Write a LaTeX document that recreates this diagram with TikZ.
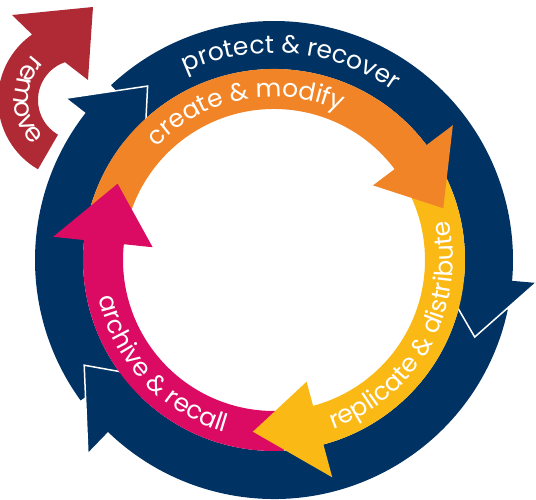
\documentclass[tikz,border=0pt]{standalone}
\usepackage{fontspec}
\newfontfamily\cyclefont{Poppins}
\usetikzlibrary{decorations.text}
\definecolor{navyblue}{RGB}{0,51,99}
\definecolor{createorange}{RGB}{241,132,38}
\definecolor{replyellow}{RGB}{250,185,21}
\definecolor{archivepink}{RGB}{219,11,99}
\definecolor{removered}{RGB}{175,42,53}
\newcommand{\labelfont}{\cyclefont\fontsize{25}{25}\selectfont\color{white}}
\newcommand{\removefont}{\cyclefont\fontsize{26}{26}\selectfont\color{white}}
% band of a ring: colour, from angle, to angle, inner r, outer r
\newcommand{\ringbody}[5]{\fill[#1] (#2:#5) arc[start angle=#2, end angle=#3, radius=#5] -- (#3:#4) arc[start angle=#3, end angle=#2, radius=#4] -- cycle;}
% head: colour, base angle, tip angle, inner r, outer r, tip r
\newcommand{\ringhead}[6]{\fill[#1] (#2:#4) -- (#3:#6) -- (#2:#5) -- cycle;}
\newcommand{\headedge}[5]{\draw[white, line width=1.5pt] (#1:#3) -- (#2:#5) -- (#1:#4);}

\begin{document}
\begin{tikzpicture}[x=1pt, y=1pt,
	ringlabel/.style={decorate, decoration={text along path, text align=center, text={|\labelfont|#1}}},
	removelabel/.style={decorate, decoration={text along path, text align=center, text={|\removefont|#1}}}]
	\useasboundingbox (-274,-240) rectangle (262,260);
	% outer ring
	\ringbody{navyblue}{216}{140}{191}{239}
	\ringbody{navyblue}{133}{-7}{191}{239}
	\ringbody{navyblue}{-12}{-136}{191}{239}
	\ringhead{navyblue}{142}{126}{165}{263}{215}
	\headedge{142}{126}{165}{263}{215}
	\ringhead{navyblue}{-5}{-21}{165}{263}{215}
	\headedge{-5}{-21}{165}{263}{215}
	\ringhead{navyblue}{226}{209}{165}{268}{217}
	\headedge{226}{209}{165}{268}{217}
	% inner ring
	\ringbody{createorange}{166}{35}{151}{191}
	\ringbody{replyellow}{27}{-77}{151}{191}
	\ringbody{archivepink}{-87}{-188}{151}{191}
	\ringhead{createorange}{37}{17}{124}{224}{177}
	\ringhead{replyellow}{-75}{-97}{126}{225}{173}
	\ringhead{archivepink}{174}{154}{122}{222}{174}
	% remove
	\begin{scope}[shift={(-196,160)}]
		\fill[removered] (240:80) arc[start angle=240, end angle=125, radius=80] -- (-66,85) -- (15,93) -- (10,20) -- (109:40) arc[start angle=109, end angle=240, radius=40] -- cycle;
		\path[removelabel={remove}] (105:64) arc[start angle=105, end angle=255, radius=64];
	\end{scope}
	% labels
	\path[ringlabel={protect {\&} recover}] (150:207) arc[start angle=150, end angle=20, radius=207];
	\path[ringlabel={create {\&} modify}] (170:163) arc[start angle=170, end angle=32, radius=163];
	\path[ringlabel={replicate {\&} distribute}] (-100:179) arc[start angle=-100, end angle=42, radius=179];
	\path[ringlabel={archive {\&} recall}] (150:179) arc[start angle=150, end angle=296, radius=179];
\end{tikzpicture}
\end{document}
